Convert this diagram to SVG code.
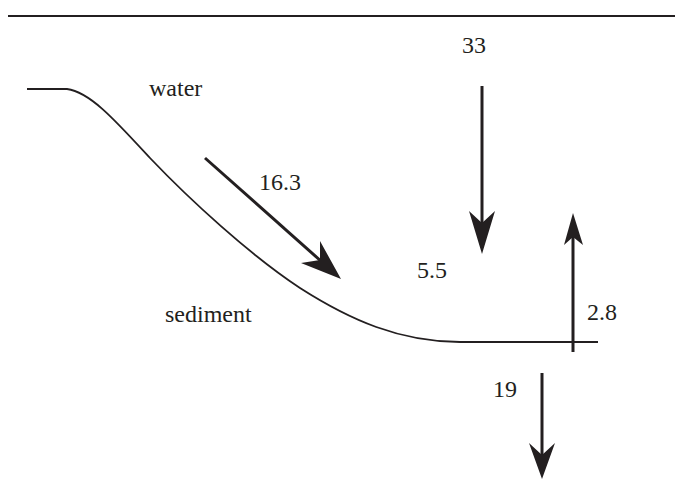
<svg xmlns="http://www.w3.org/2000/svg" width="675" height="483" viewBox="0 0 675 483">
<style>
.lbl{font-family:"Liberation Serif","Times New Roman",serif;font-size:24px;fill:#231f20}
.shaft{stroke:#231f20;stroke-width:3;fill:none}
.head{fill:#231f20;stroke:none}
.line{stroke:#231f20;fill:none}
</style>
<rect width="675" height="483" fill="#fff"/>
<g id="surface"><line class="line" x1="8" y1="16" x2="675" y2="16" stroke-width="2"/></g>
<g id="bed"><path class="line" stroke-width="1.8" d="M27,89 H67 C90,92 115,120 150,158 C190,200 250,255 300,288 C350,320 400,342 460,342 H598"/></g>
<g id="labels">
<text class="lbl" x="462" y="53">33</text>
<text class="lbl" x="149" y="96">water</text>
<text class="lbl" x="259" y="190">16.3</text>
<text class="lbl" x="417" y="278">5.5</text>
<text class="lbl" x="165" y="322">sediment</text>
<text class="lbl" x="587" y="320">2.8</text>
<text class="lbl" x="493" y="397">19</text>
</g>
<g id="connectors">
<line class="shaft" x1="205" y1="158" x2="322" y2="262"/>
<path class="head" d="M341,279 L301,263 L320,260 L320,241 Z"/>
<line class="shaft" x1="482" y1="86" x2="482" y2="228"/>
<path class="head" d="M482,254 L469,211 L482,223 L495,211 Z"/>
<line class="shaft" x1="573" y1="352" x2="573" y2="236"/>
<path class="head" d="M573,213 L583,245 L573,237 L564,245 Z"/>
<line class="shaft" x1="542" y1="373" x2="542" y2="455"/>
<path class="head" d="M542,479 L529,443 L542,455 L555,443 Z"/>
</g>
</svg>
